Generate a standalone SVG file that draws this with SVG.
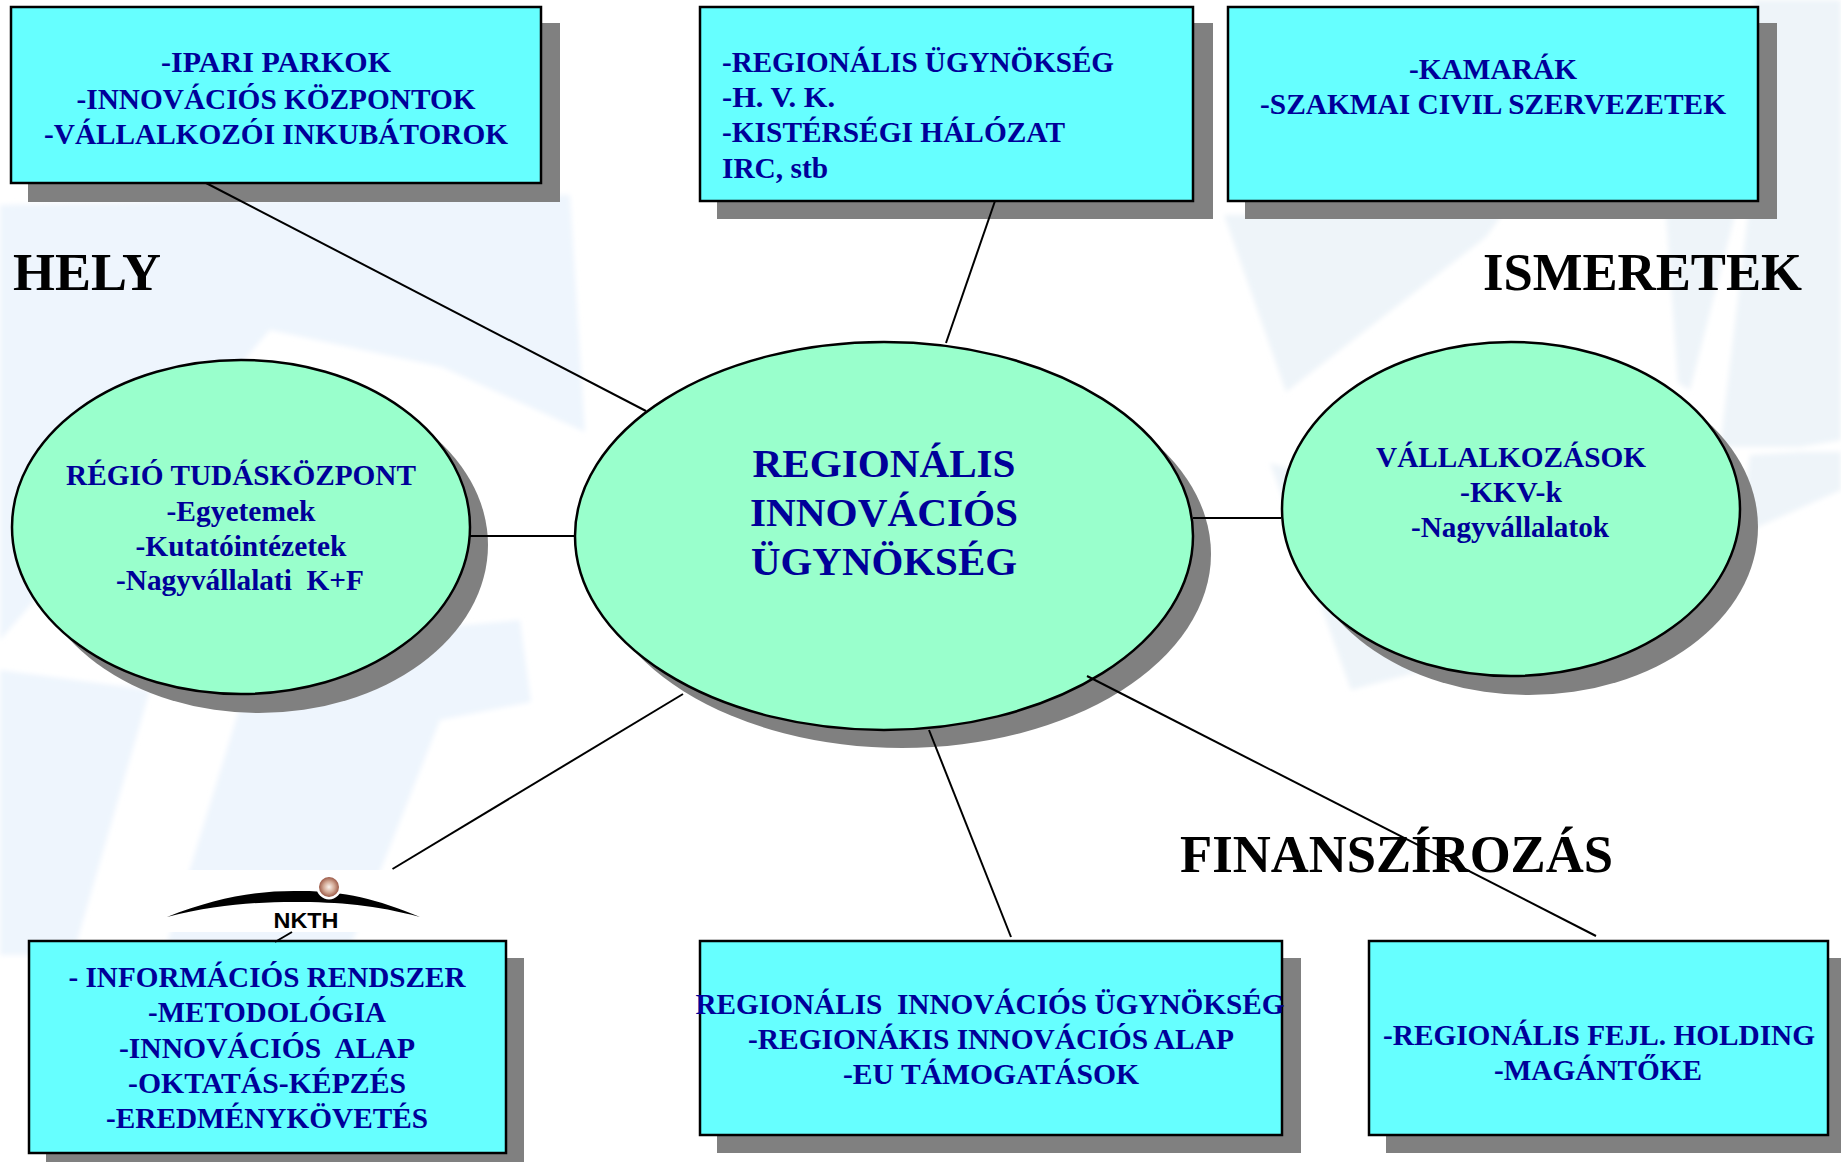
<svg xmlns="http://www.w3.org/2000/svg" width="1841" height="1162" viewBox="0 0 1841 1162">
<defs>
<radialGradient id="ball" cx="50%" cy="50%" r="50%"><stop offset="0" stop-color="#fbf3ee"/><stop offset="0.55" stop-color="#d2a894"/><stop offset="1" stop-color="#9c5a48"/></radialGradient>
<filter id="soft" x="-5%" y="-5%" width="110%" height="110%"><feGaussianBlur stdDeviation="2.5"/></filter>
</defs>
<style>
.box{fill:#66ffff;stroke:#000;stroke-width:2.5}
.ell{fill:#99ffcc;stroke:#000;stroke-width:2.5}
.sh{fill:#808080}
.c{stroke:#000;stroke-width:2;fill:none}
text{font-family:"Liberation Serif","Times New Roman",serif;font-weight:bold}
.t{font-size:30px;fill:#000099;text-anchor:middle}
.l{font-size:30px;fill:#000099}
.big{font-size:41px;fill:#000099;text-anchor:middle}
.h{font-size:52px;fill:#000}
.bg{fill:#eef5fd}
.bg2{fill:#eef4f9}
</style>
<rect width="1841" height="1162" fill="#fff"/>
<g id="background" filter="url(#soft)">
<polygon class="bg" points="0,205 570,195 585,432 442,367 270,330 0,640"/>
<polygon class="bg" points="0,670 150,690 73,955 0,955"/>
<polygon class="bg" points="239,710 165,950 349,950 440,720 531,702 520,620 300,640"/>
<polygon class="bg2" points="1224,215 1286,392 1486,237 1502,215"/>
<polygon class="bg2" points="1666,215 1735,215 1690,390 1678,383"/>
<polygon class="bg2" points="1755,0 1841,0 1841,440 1800,447 1720,447 1748,215"/>
<polygon class="bg2" points="1841,452 1800,452 1750,455 1740,535 1841,490"/>
<polygon class="bg2" points="1270,463 1351,690 1500,650 1400,500"/>
</g>
<g id="node-ipari">
<rect class="sh" x="28" y="23" width="532" height="179"/>
<rect class="box" x="11" y="7" width="530" height="176"/>
<text class="t" x="276" y="72" textLength="230" lengthAdjust="spacingAndGlyphs">-IPARI PARKOK</text>
<text class="t" x="276" y="109" textLength="399" lengthAdjust="spacingAndGlyphs">-INNOVÁCIÓS KÖZPONTOK</text>
<text class="t" x="276" y="144" textLength="464" lengthAdjust="spacingAndGlyphs">-VÁLLALKOZÓI INKUBÁTOROK</text>
</g>
<g id="node-regionalis-ugynokseg">
<rect class="sh" x="717" y="23" width="496" height="196"/>
<rect class="box" x="700" y="7" width="493" height="194"/>
<text class="l" x="722" y="72" textLength="392" lengthAdjust="spacingAndGlyphs">-REGIONÁLIS ÜGYNÖKSÉG</text>
<text class="l" x="722" y="107" textLength="113" lengthAdjust="spacingAndGlyphs">-H. V. K.</text>
<text class="l" x="722" y="142" textLength="343" lengthAdjust="spacingAndGlyphs">-KISTÉRSÉGI HÁLÓZAT</text>
<text class="l" x="722" y="178" textLength="106" lengthAdjust="spacingAndGlyphs">IRC, stb</text>
</g>
<g id="node-kamarak">
<rect class="sh" x="1245" y="23" width="532" height="196"/>
<rect class="box" x="1228" y="7" width="530" height="194"/>
<text class="t" x="1493" y="79" textLength="168" lengthAdjust="spacingAndGlyphs">-KAMARÁK</text>
<text class="t" x="1493" y="114" textLength="466" lengthAdjust="spacingAndGlyphs">-SZAKMAI CIVIL SZERVEZETEK</text>
</g>
<g id="node-regio">
<ellipse class="sh" cx="259" cy="545" rx="229" ry="168"/>
<ellipse class="ell" cx="241" cy="527" rx="229" ry="167"/>
<text class="t" x="241" y="485" textLength="350" lengthAdjust="spacingAndGlyphs">RÉGIÓ TUDÁSKÖZPONT</text>
<text class="t" x="241" y="521" textLength="149" lengthAdjust="spacingAndGlyphs">-Egyetemek</text>
<text class="t" x="241" y="556" textLength="211" lengthAdjust="spacingAndGlyphs">-Kutatóintézetek</text>
<text class="t" x="240" y="590" textLength="248" lengthAdjust="spacingAndGlyphs" xml:space="preserve">-Nagyvállalati  K+F</text>
</g>
<g id="node-center">
<ellipse class="sh" cx="902" cy="554" rx="309" ry="194"/>
<ellipse class="ell" cx="884" cy="536" rx="309" ry="194"/>
<text class="big" x="884" y="477" textLength="263" lengthAdjust="spacingAndGlyphs">REGIONÁLIS</text>
<text class="big" x="884" y="526" textLength="268" lengthAdjust="spacingAndGlyphs">INNOVÁCIÓS</text>
<text class="big" x="884" y="575" textLength="266" lengthAdjust="spacingAndGlyphs">ÜGYNÖKSÉG</text>
</g>
<g id="node-vallalkozasok">
<ellipse class="sh" cx="1529" cy="527" rx="229" ry="168"/>
<ellipse class="ell" cx="1511" cy="509" rx="229" ry="167"/>
<text class="t" x="1511" y="467" textLength="270" lengthAdjust="spacingAndGlyphs">VÁLLALKOZÁSOK</text>
<text class="t" x="1511" y="502" textLength="102" lengthAdjust="spacingAndGlyphs">-KKV-k</text>
<text class="t" x="1510" y="537" textLength="198" lengthAdjust="spacingAndGlyphs">-Nagyvállalatok</text>
</g>
<g id="node-nkth">
<rect x="152" y="870" width="270" height="62" fill="#fff"/>
<path d="M167 917 C215 898 255 891 294 891 C340 890 375 898 420 917 C375 905 340 902 294 902 C255 902 215 905 167 917Z" fill="#000"/>
<circle cx="329" cy="887" r="12.5" fill="#fff"/>
<circle cx="329" cy="887" r="10" fill="url(#ball)"/>
<text x="306" y="928" font-size="22" text-anchor="middle" textLength="65" lengthAdjust="spacingAndGlyphs" style="font-family:'Liberation Sans',Arial,sans-serif">NKTH</text>
</g>
<g id="node-informacios">
<rect class="sh" x="46" y="958" width="478" height="204"/>
<rect class="box" x="29" y="941" width="477" height="212"/>
<text class="t" x="267" y="987" textLength="397" lengthAdjust="spacingAndGlyphs">- INFORMÁCIÓS RENDSZER</text>
<text class="t" x="267" y="1022" textLength="238" lengthAdjust="spacingAndGlyphs">-METODOLÓGIA</text>
<text class="t" x="267" y="1058" textLength="296" lengthAdjust="spacingAndGlyphs" xml:space="preserve">-INNOVÁCIÓS  ALAP</text>
<text class="t" x="267" y="1093" textLength="278" lengthAdjust="spacingAndGlyphs">-OKTATÁS-KÉPZÉS</text>
<text class="t" x="267" y="1128" textLength="322" lengthAdjust="spacingAndGlyphs">-EREDMÉNYKÖVETÉS</text>
</g>
<g id="node-rio">
<rect class="sh" x="717" y="958" width="584" height="195"/>
<rect class="box" x="700" y="941" width="582" height="194"/>
<text class="t" x="990" y="1014" textLength="589" lengthAdjust="spacingAndGlyphs" xml:space="preserve">REGIONÁLIS  INNOVÁCIÓS ÜGYNÖKSÉG</text>
<text class="t" x="991" y="1049" textLength="486" lengthAdjust="spacingAndGlyphs">-REGIONÁKIS INNOVÁCIÓS ALAP</text>
<text class="t" x="991" y="1084" textLength="296" lengthAdjust="spacingAndGlyphs">-EU TÁMOGATÁSOK</text>
</g>
<g id="node-holding">
<rect class="sh" x="1386" y="958" width="455" height="195"/>
<rect class="box" x="1369" y="941" width="459" height="194"/>
<text class="t" x="1599" y="1045" textLength="432" lengthAdjust="spacingAndGlyphs">-REGIONÁLIS FEJL. HOLDING</text>
<text class="t" x="1598" y="1080" textLength="208" lengthAdjust="spacingAndGlyphs">-MAGÁNTŐKE</text>
</g>
<g id="labels">
<text class="h" x="13" y="290" textLength="148" lengthAdjust="spacingAndGlyphs">HELY</text>
<text class="h" x="1483" y="290" textLength="319" lengthAdjust="spacingAndGlyphs">ISMERETEK</text>
<text class="h" x="1180" y="872" textLength="433" lengthAdjust="spacingAndGlyphs">FINANSZÍROZÁS</text>
</g>
<g id="connectors">
<line class="c" x1="206" y1="183" x2="646" y2="411"/>
<line class="c" x1="995" y1="201" x2="946" y2="343"/>
<line class="c" x1="1193" y1="518" x2="1281" y2="518"/>
<line class="c" x1="470" y1="536" x2="575" y2="536"/>
<line class="c" x1="683" y1="694" x2="392.500" y2="869"/>
<line class="c" x1="292" y1="932" x2="275" y2="942"/>
<line class="c" x1="929" y1="730" x2="1011" y2="937"/>
<line class="c" x1="1087" y1="676" x2="1596" y2="936"/>
</g>
</svg>
